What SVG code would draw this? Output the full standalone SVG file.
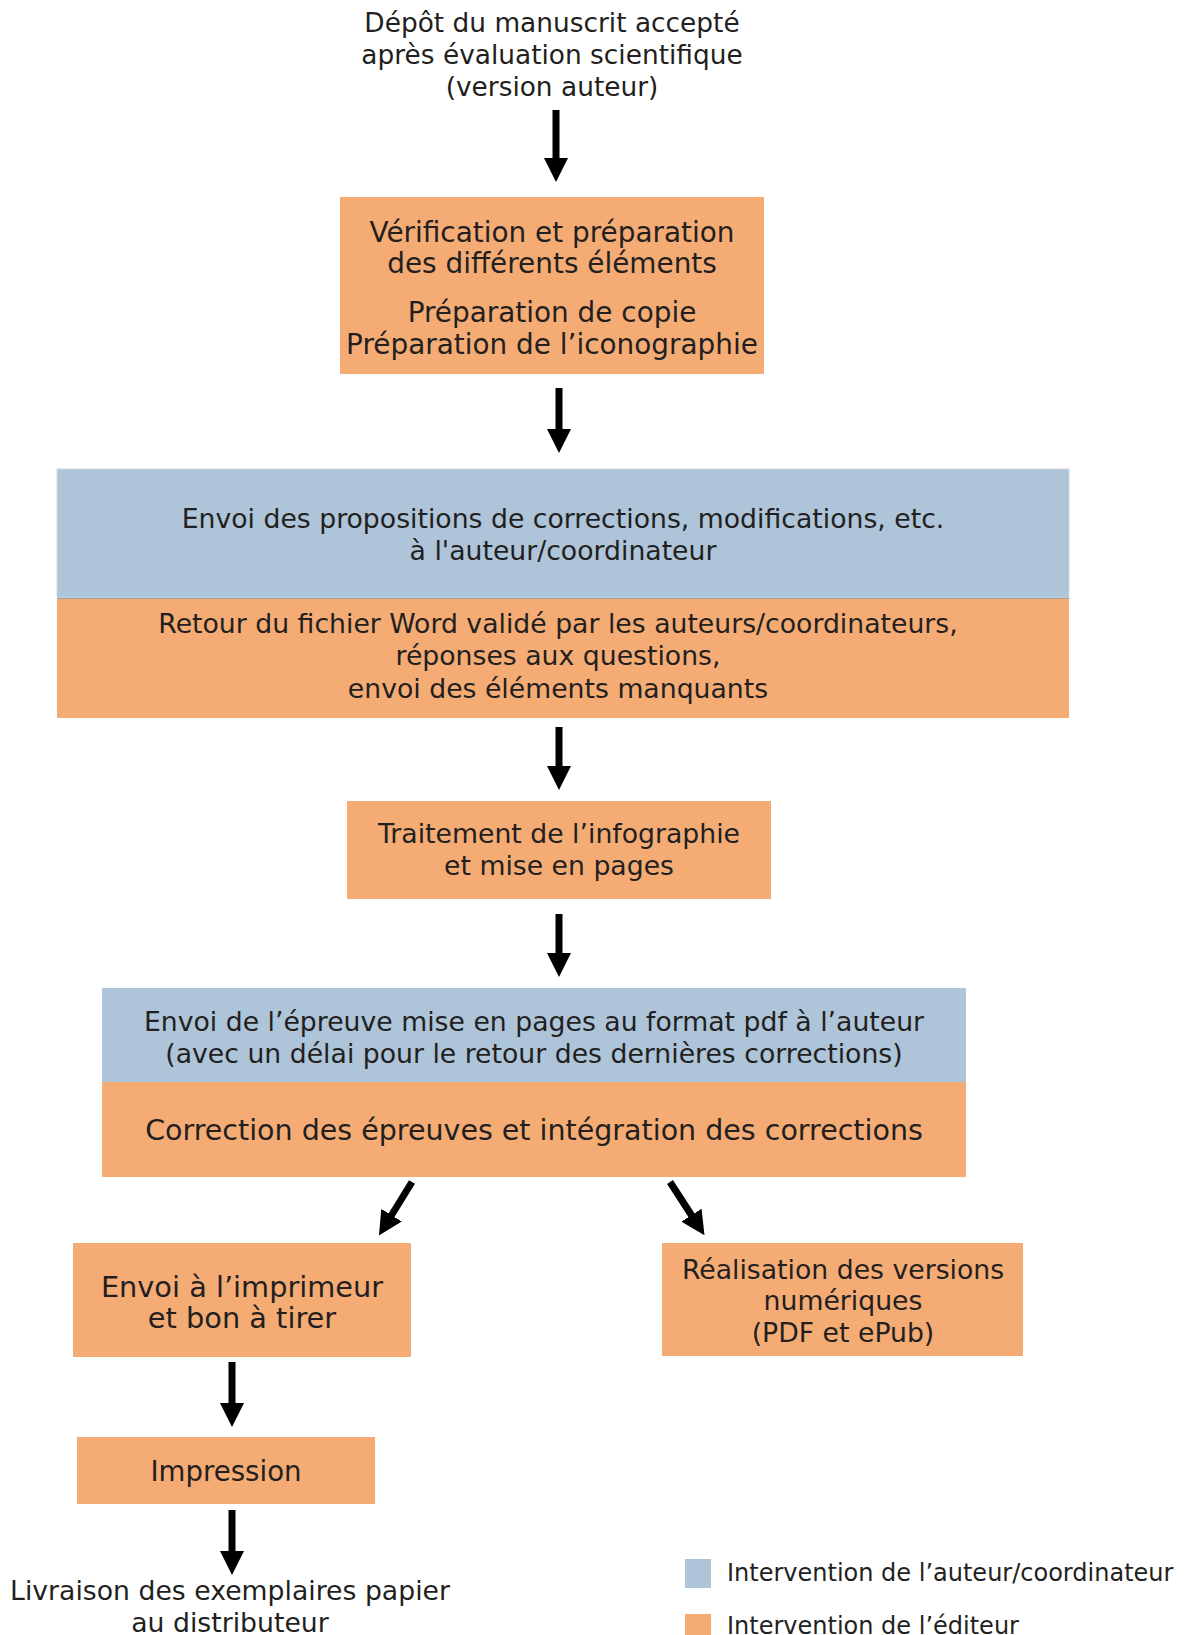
<svg xmlns="http://www.w3.org/2000/svg" width="1186" height="1635" viewBox="0 0 1186 1635">
<style>
text{font-family:"DejaVu Sans","Verdana",sans-serif;font-size:26.7px;fill:#231f20;text-anchor:middle}
.ed{fill:#f4ac74}
.au{fill:#adc4d9}
.top{font-size:26.4px}
.b1{font-size:27.9px}
.big{font-size:28.8px}
.corr{font-size:28.5px}
.imp{font-size:27.6px}
.leg{font-size:24px;text-anchor:start}
.arr{stroke:#000;stroke-width:7;fill:none;marker-end:url(#head)}
</style>
<defs>
<marker id="head" markerUnits="userSpaceOnUse" viewBox="0 -12 24 24" markerWidth="24" markerHeight="24" refX="1" refY="0" orient="auto">
<path d="M0,-12 L24,0 L0,12 z" fill="#000"/>
</marker>
</defs>
<rect width="1186" height="1635" fill="#fff"/>
<g id="depot">
<text class="top" x="552" y="32">Dépôt du manuscrit accepté</text>
<text class="top" x="552" y="64">après évaluation scientifique</text>
<text class="top" x="552" y="96">(version auteur)</text>
</g>
<g id="verification">
<rect class="ed" x="340" y="197" width="424" height="177"/>
<text class="b1" x="552" y="242">Vérification et préparation</text>
<text class="b1" x="552" y="273">des différents éléments</text>
<text class="b1" x="552" y="322">Préparation de copie</text>
<text class="b1" x="552" y="354">Préparation de l’iconographie</text>
</g>
<g id="envoi-propositions">
<rect class="au" x="57" y="469" width="1012" height="129" stroke="#d3d8dd" stroke-width="1"/>
<text x="563" y="528">Envoi des propositions de corrections, modifications, etc.</text>
<text x="563" y="560">à l'auteur/coordinateur</text>
</g>
<g id="retour-fichier">
<rect class="ed" x="57" y="598" width="1012" height="120"/>
<line x1="57" y1="598.5" x2="1069" y2="598.5" stroke="#a3a09c" stroke-width="1"/>
<text x="558" y="633">Retour du fichier Word validé par les auteurs/coordinateurs,</text>
<text x="558" y="665">réponses aux questions,</text>
<text x="558" y="698">envoi des éléments manquants</text>
</g>
<g id="traitement">
<rect class="ed" x="347" y="801" width="424" height="98"/>
<text x="559" y="843">Traitement de l’infographie</text>
<text x="559" y="875">et mise en pages</text>
</g>
<g id="envoi-epreuve">
<rect class="au" x="102" y="988" width="864" height="94"/>
<text x="534" y="1031">Envoi de l’épreuve mise en pages au format pdf à l’auteur</text>
<text x="534" y="1063">(avec un délai pour le retour des dernières corrections)</text>
</g>
<g id="correction">
<rect class="ed" x="102" y="1082" width="864" height="95"/>
<text class="corr" x="534" y="1140">Correction des épreuves et intégration des corrections</text>
</g>
<g id="imprimeur">
<rect class="ed" x="73" y="1243" width="338" height="114"/>
<text class="big" x="242" y="1297">Envoi à l’imprimeur</text>
<text class="big" x="242" y="1328">et bon à tirer</text>
</g>
<g id="numerique">
<rect class="ed" x="662" y="1243" width="361" height="113"/>
<text x="843" y="1279">Réalisation des versions</text>
<text x="843" y="1310">numériques</text>
<text x="843" y="1342">(PDF et ePub)</text>
</g>
<g id="impression">
<rect class="ed" x="77" y="1437" width="298" height="67"/>
<text class="imp" x="226" y="1481">Impression</text>
</g>
<g id="livraison">
<text x="230" y="1600">Livraison des exemplaires papier</text>
<text x="230" y="1632">au distributeur</text>
</g>
<g id="legende">
<rect class="au" x="685" y="1559" width="26" height="29"/>
<text class="leg" x="727" y="1581">Intervention de l’auteur/coordinateur</text>
<rect class="ed" x="685" y="1614" width="26" height="29"/>
<text class="leg" x="727" y="1634">Intervention de l’éditeur</text>
</g>
<g id="connectors">
<line class="arr" x1="556" y1="110" x2="556" y2="159"/>
<line class="arr" x1="559" y1="388" x2="559" y2="430"/>
<line class="arr" x1="559" y1="727" x2="559" y2="767"/>
<line class="arr" x1="559" y1="914" x2="559" y2="954"/>
<line class="arr" x1="412" y1="1182" x2="391" y2="1216"/>
<line class="arr" x1="670" y1="1182" x2="692" y2="1216"/>
<line class="arr" x1="232" y1="1362" x2="232" y2="1404"/>
<line class="arr" x1="232" y1="1510" x2="232" y2="1552"/>
</g>
</svg>
